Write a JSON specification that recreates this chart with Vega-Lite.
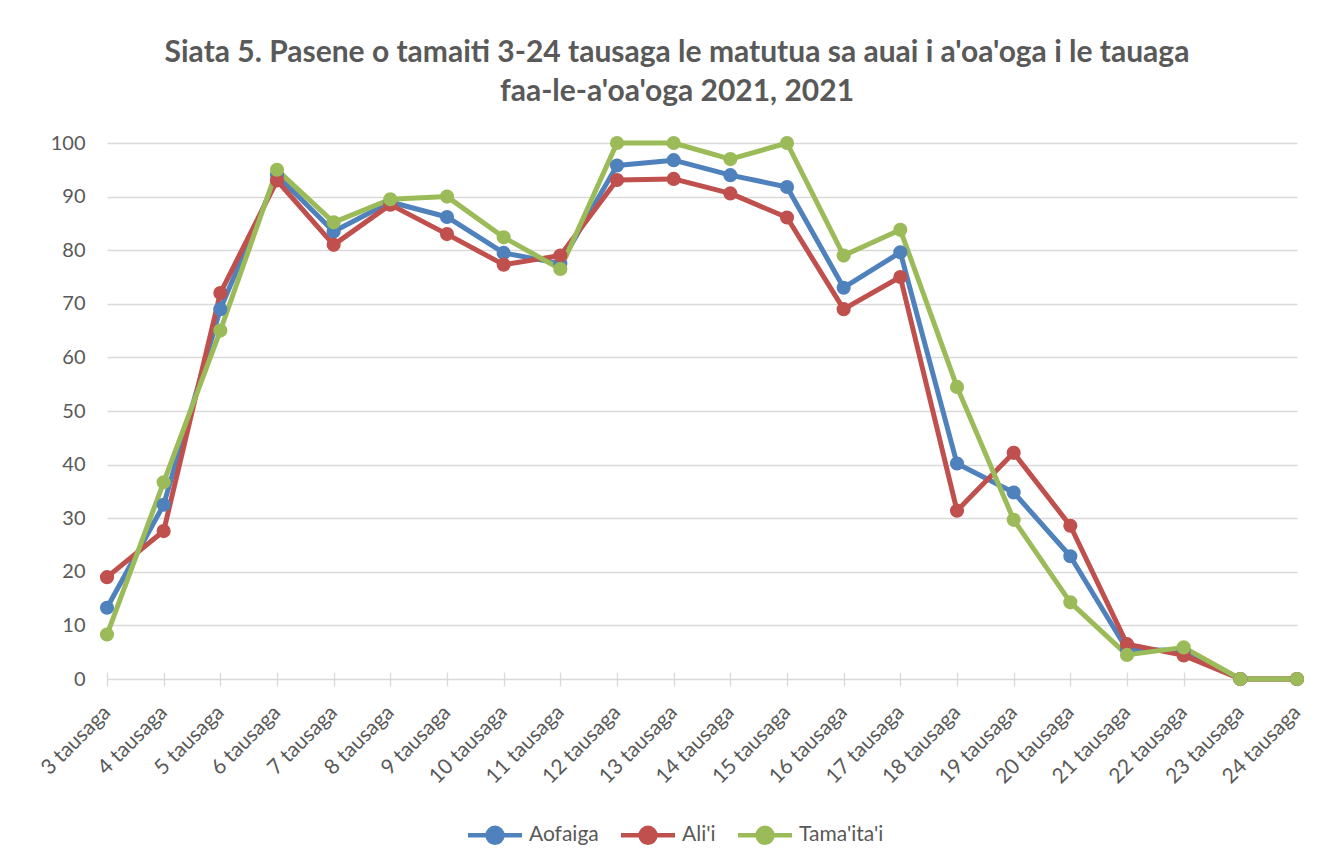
{
  "$schema": "https://vega.github.io/schema/vega-lite/v6.json",
  "width": 1190,
  "height": 536,
  "autosize": {"type": "none"},
  "padding": {"left": 107, "top": 143, "right": 41, "bottom": 185},
  "background": "white",
  "title": {
    "text": ["Siata 5. Pasene o tamaiti 3-24 tausaga le matutua sa auai i a'oa'oga i le tauaga", "faa-le-a'oa'oga 2021, 2021"],
    "font": "Lato",
    "fontSize": 30,
    "fontWeight": "bold",
    "color": "#595959",
    "anchor": "middle",
    "frame": "group",
    "dx": -25,
    "baseline": "alphabetic",
    "lineHeight": 39,
    "offset": 2
  },
  "config": {
    "view": {"stroke": null},
    "font": "Lato",
    "axis": {"labelFont": "Lato", "labelColor": "#595959", "gridColor": "#D9D9D9", "gridWidth": 1.3}
  },
  "data": {
    "values": [
      {"age": "3 tausaga", "series": "Aofaiga", "value": 13.3},
      {"age": "4 tausaga", "series": "Aofaiga", "value": 32.5},
      {"age": "5 tausaga", "series": "Aofaiga", "value": 69},
      {"age": "6 tausaga", "series": "Aofaiga", "value": 94},
      {"age": "7 tausaga", "series": "Aofaiga", "value": 83.5},
      {"age": "8 tausaga", "series": "Aofaiga", "value": 89},
      {"age": "9 tausaga", "series": "Aofaiga", "value": 86.2},
      {"age": "10 tausaga", "series": "Aofaiga", "value": 79.5},
      {"age": "11 tausaga", "series": "Aofaiga", "value": 77.5},
      {"age": "12 tausaga", "series": "Aofaiga", "value": 95.8},
      {"age": "13 tausaga", "series": "Aofaiga", "value": 96.8},
      {"age": "14 tausaga", "series": "Aofaiga", "value": 94},
      {"age": "15 tausaga", "series": "Aofaiga", "value": 91.8},
      {"age": "16 tausaga", "series": "Aofaiga", "value": 73},
      {"age": "17 tausaga", "series": "Aofaiga", "value": 79.6},
      {"age": "18 tausaga", "series": "Aofaiga", "value": 40.2},
      {"age": "19 tausaga", "series": "Aofaiga", "value": 34.8},
      {"age": "20 tausaga", "series": "Aofaiga", "value": 22.9},
      {"age": "21 tausaga", "series": "Aofaiga", "value": 5.5},
      {"age": "22 tausaga", "series": "Aofaiga", "value": 5.3},
      {"age": "23 tausaga", "series": "Aofaiga", "value": 0},
      {"age": "24 tausaga", "series": "Aofaiga", "value": 0},
      {"age": "3 tausaga", "series": "Ali'i", "value": 19},
      {"age": "4 tausaga", "series": "Ali'i", "value": 27.6},
      {"age": "5 tausaga", "series": "Ali'i", "value": 72},
      {"age": "6 tausaga", "series": "Ali'i", "value": 93},
      {"age": "7 tausaga", "series": "Ali'i", "value": 81},
      {"age": "8 tausaga", "series": "Ali'i", "value": 88.5},
      {"age": "9 tausaga", "series": "Ali'i", "value": 83},
      {"age": "10 tausaga", "series": "Ali'i", "value": 77.3},
      {"age": "11 tausaga", "series": "Ali'i", "value": 79},
      {"age": "12 tausaga", "series": "Ali'i", "value": 93.1},
      {"age": "13 tausaga", "series": "Ali'i", "value": 93.3},
      {"age": "14 tausaga", "series": "Ali'i", "value": 90.6},
      {"age": "15 tausaga", "series": "Ali'i", "value": 86.1},
      {"age": "16 tausaga", "series": "Ali'i", "value": 69},
      {"age": "17 tausaga", "series": "Ali'i", "value": 75},
      {"age": "18 tausaga", "series": "Ali'i", "value": 31.4},
      {"age": "19 tausaga", "series": "Ali'i", "value": 42.2},
      {"age": "20 tausaga", "series": "Ali'i", "value": 28.6},
      {"age": "21 tausaga", "series": "Ali'i", "value": 6.5},
      {"age": "22 tausaga", "series": "Ali'i", "value": 4.4},
      {"age": "23 tausaga", "series": "Ali'i", "value": 0},
      {"age": "24 tausaga", "series": "Ali'i", "value": 0},
      {"age": "3 tausaga", "series": "Tama'ita'i", "value": 8.3},
      {"age": "4 tausaga", "series": "Tama'ita'i", "value": 36.7},
      {"age": "5 tausaga", "series": "Tama'ita'i", "value": 65},
      {"age": "6 tausaga", "series": "Tama'ita'i", "value": 95},
      {"age": "7 tausaga", "series": "Tama'ita'i", "value": 85.2},
      {"age": "8 tausaga", "series": "Tama'ita'i", "value": 89.5},
      {"age": "9 tausaga", "series": "Tama'ita'i", "value": 90},
      {"age": "10 tausaga", "series": "Tama'ita'i", "value": 82.4},
      {"age": "11 tausaga", "series": "Tama'ita'i", "value": 76.5},
      {"age": "12 tausaga", "series": "Tama'ita'i", "value": 100},
      {"age": "13 tausaga", "series": "Tama'ita'i", "value": 100},
      {"age": "14 tausaga", "series": "Tama'ita'i", "value": 97},
      {"age": "15 tausaga", "series": "Tama'ita'i", "value": 100},
      {"age": "16 tausaga", "series": "Tama'ita'i", "value": 79},
      {"age": "17 tausaga", "series": "Tama'ita'i", "value": 83.8},
      {"age": "18 tausaga", "series": "Tama'ita'i", "value": 54.5},
      {"age": "19 tausaga", "series": "Tama'ita'i", "value": 29.7},
      {"age": "20 tausaga", "series": "Tama'ita'i", "value": 14.3},
      {"age": "21 tausaga", "series": "Tama'ita'i", "value": 4.5},
      {"age": "22 tausaga", "series": "Tama'ita'i", "value": 5.9},
      {"age": "23 tausaga", "series": "Tama'ita'i", "value": 0},
      {"age": "24 tausaga", "series": "Tama'ita'i", "value": 0}
    ]
  },
  "encoding": {
    "x": {
      "field": "age",
      "type": "nominal",
      "sort": null,
      "scale": {"type": "point", "padding": 0},
      "axis": {
        "title": null,
        "domain": false,
        "grid": false,
        "ticks": true,
        "tickSize": 14,
        "tickColor": "#D9D9D9",
        "tickWidth": 1.3,
        "offset": -7,
        "labelAngle": -45,
        "labelAlign": "right",
        "labelBaseline": "middle",
        "labelFontSize": 21,
        "labelPadding": 23
      }
    },
    "y": {
      "field": "value",
      "type": "quantitative",
      "scale": {"domain": [0, 100], "nice": false},
      "axis": {
        "title": null,
        "domain": false,
        "ticks": false,
        "values": [0, 10, 20, 30, 40, 50, 60, 70, 80, 90, 100],
        "labelFontSize": 20,
        "labelPadding": 22
      }
    },
    "color": {
      "field": "series",
      "type": "nominal",
      "sort": null,
      "scale": {"domain": ["Aofaiga", "Ali'i", "Tama'ita'i"], "range": ["#4F81BD", "#C0504D", "#9BBB59"]},
      "legend": {
        "title": null,
        "orient": "none",
        "direction": "horizontal",
        "legendX": 372,
        "legendY": 676,
        "symbolType": "M-2,0H2M-0.55,0A0.55,0.55 0 1,0 0.55,0A0.55,0.55 0 1,0 -0.55,0Z",
        "symbolSize": 729,
        "symbolStrokeWidth": 4.5,
        "labelFontSize": 21,
        "labelColor": "#595959",
        "labelFont": "Lato",
        "labelOffset": 18,
        "columnPadding": 13
      }
    }
  },
  "layer": [
    {"mark": {"type": "line", "strokeWidth": 5, "strokeJoin": "round", "strokeCap": "round"}},
    {"mark": {"type": "point", "filled": true, "size": 200, "opacity": 1}}
  ]
}
